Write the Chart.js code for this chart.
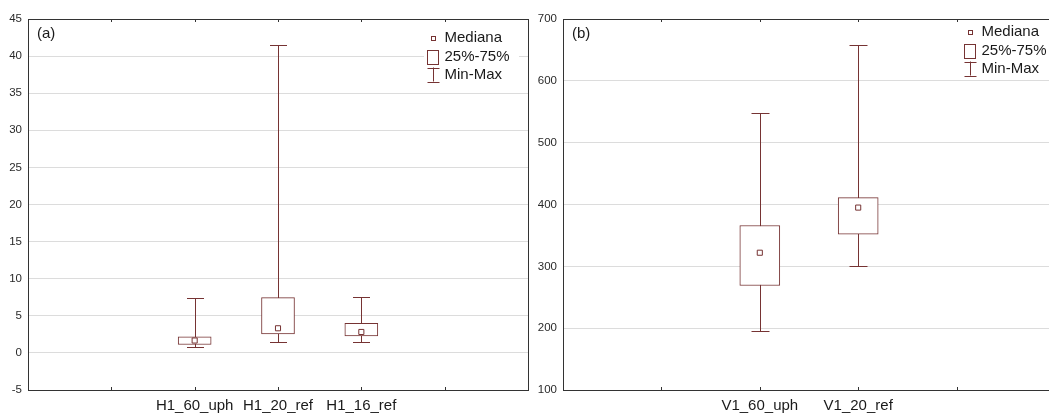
<!DOCTYPE html>
<html>
<head>
<meta charset="utf-8">
<title>Box plots H1 / V1</title>
<script src="https://cdn.jsdelivr.net/npm/chart.js@4.4.0/dist/chart.umd.min.js"></script>
<style>
  html, body { margin: 0; padding: 0; background: #fff; width: 1049px; height: 413px; overflow: hidden; }
  .panel { position: absolute; top: 0; }
  #wrapA { left: 0; }
  #wrapB { left: 538px; }
</style>
</head>
<body>
<div class="panel" id="wrapA"><canvas id="chartA" width="538" height="413"></canvas></div>
<div class="panel" id="wrapB"><canvas id="chartB" width="522" height="413"></canvas></div>
<script>
// panel (a)
const catsA = ['H1_60_uph', 'H1_20_ref', 'H1_16_ref']
const minA = [0.73, 1.45, 1.45]
const q1A = [1.13, 2.55, 2.28]
const medA = [1.67, 3.32, 2.82]
const q3A = [2.18, 7.44, 3.99]
const maxA = [7.44, 41.5, 7.53]
const yTicksA = [-5, 0, 5, 10, 15, 20, 25, 30, 35, 40, 45]

// panel (b)
const catsB = ['V1_60_uph', 'V1_20_ref']
const minB = [196, 300]
const q1B = [269, 352]
const medB = [322, 395]
const q3B = [366, 411]
const maxB = [548, 658]
const yTicksB = [100, 200, 300, 400, 500, 600, 700]

const legendLabels = ['Mediana', '25%-75%', 'Min-Max']

const BOX = '#763333'
const FRAME = '#333'

Chart.defaults.font.family = '"Liberation Sans", Arial, sans-serif'

function boxChart(id, p) {
  // whiskers, frame, x tick marks, panel tag and legend
  const extras = {
    id: 'extras',
    beforeDatasetsDraw(chart) {
      const { ctx, scales: { x, y } } = chart
      ctx.save()
      ctx.strokeStyle = BOX
      ctx.lineWidth = 1
      p.cats.forEach((c, i) => {
        const px = Math.round(x.getPixelForValue(i + p.first)) + 0.5
        const yLo = Math.round(y.getPixelForValue(p.mn[i])) + 0.5
        const yHi = Math.round(y.getPixelForValue(p.mx[i])) + 0.5
        const h = p.cap / 2
        ctx.beginPath()
        ctx.moveTo(px, yLo); ctx.lineTo(px, yHi)
        ctx.moveTo(px - h, yLo); ctx.lineTo(px + h, yLo)
        ctx.moveTo(px - h, yHi); ctx.lineTo(px + h, yHi)
        ctx.stroke()
      })
      ctx.restore()
    },
    afterDraw(chart) {
      const { ctx, chartArea: a, scales: { x } } = chart
      ctx.save()

      // frame
      ctx.strokeStyle = FRAME
      ctx.lineWidth = 1
      ctx.strokeRect(Math.round(a.left) + 0.5, Math.round(a.top) + 0.5,
        Math.round(a.right - a.left), Math.round(a.bottom - a.top))

      // small inward ticks on top and bottom
      ctx.beginPath()
      for (let v = 1; v < p.xMax; v++) {
        const px = Math.round(x.getPixelForValue(v)) + 0.5
        ctx.moveTo(px, a.bottom); ctx.lineTo(px, a.bottom - 3)
        ctx.moveTo(px, a.top); ctx.lineTo(px, a.top + 3)
      }
      ctx.stroke()

      // panel tag
      ctx.fillStyle = '#1a1a1a'
      ctx.font = '15px "Liberation Sans", Arial, sans-serif'
      ctx.textBaseline = 'middle'
      ctx.textAlign = 'left'
      ctx.fillText(p.tag, a.left + 9, 34)

      // legend
      const lx = p.legX
      const rows = [p.legY, p.legY + 18.5, p.legY + 36.5]
      ctx.fillStyle = '#fff'
      ctx.fillRect(lx - 9, rows[0] - 10, a.right - 9 - (lx - 9), rows[2] + 10 - (rows[0] - 10))
      ctx.strokeStyle = BOX
      ctx.strokeRect(Math.round(lx - 2.5) + 0.5, Math.round(rows[0] - 2.5) + 0.5, 4, 4)
      ctx.strokeRect(Math.round(lx - 6) + 0.5, Math.round(rows[1] - 7) + 0.5, 11, 14)
      ctx.beginPath()
      const bx = Math.round(lx) + 0.5
      ctx.moveTo(bx, rows[2] - 7); ctx.lineTo(bx, rows[2] + 7)
      ctx.moveTo(bx - 6, Math.round(rows[2] - 7) + 0.5); ctx.lineTo(bx + 6, Math.round(rows[2] - 7) + 0.5)
      ctx.moveTo(bx - 6, Math.round(rows[2] + 7) + 0.5); ctx.lineTo(bx + 6, Math.round(rows[2] + 7) + 0.5)
      ctx.stroke()
      ctx.fillStyle = '#1a1a1a'
      legendLabels.forEach((t, i) => ctx.fillText(t, lx + 11.5, rows[i]))

      ctx.restore()
    }
  }

  return new Chart(document.getElementById(id), {
    type: 'bar',
    data: {
      datasets: [
        {
          type: 'scatter',
          data: p.cats.map((c, i) => ({ x: i + p.first, y: p.med[i] })),
          pointStyle: 'rect',
          pointRadius: 3.6,
          backgroundColor: '#fff',
          borderColor: BOX,
          borderWidth: 1,
          order: 1
        },
        {
          type: 'bar',
          data: p.cats.map((c, i) => ({ x: i + p.first, y: [p.q1[i], p.q3[i]] })),
          backgroundColor: '#fff',
          borderColor: BOX,
          borderWidth: 1,
          borderSkipped: false,
          barThickness: p.barW,
          order: 2
        }
      ]
    },
    options: {
      responsive: false,
      animation: false,
      events: [],
      layout: { padding: { top: 19, right: p.padRight, left: 0, bottom: 0 } },
      plugins: { legend: { display: false }, tooltip: { enabled: false } },
      scales: {
        x: {
          type: 'linear',
          min: 0,
          max: p.xMax,
          offset: false,
          grid: { display: false, drawTicks: false, offset: false },
          border: { display: false },
          afterBuildTicks: s => { s.ticks = p.cats.map((c, i) => ({ value: i + p.first })) },
          ticks: {
            callback: v => p.cats[v - p.first] ?? '',
            autoSkip: false,
            maxRotation: 0,
            padding: 7,
            color: '#1a1a1a',
            font: { size: 15 }
          },
          afterFit: s => { s.height = 23 }
        },
        y: {
          type: 'linear',
          min: p.yTicks[0],
          max: p.yTicks[p.yTicks.length - 1],
          afterBuildTicks: s => { s.ticks = p.yTicks.map(v => ({ value: v })) },
          grid: { color: '#dcdcdc', drawTicks: false },
          border: { display: false },
          ticks: { padding: 6, color: '#2a2a2a', font: { size: 11.5 } },
          afterFit: s => { s.width = p.yWidth }
        }
      }
    },
    plugins: [extras]
  })
}

boxChart('chartA', {
  cats: catsA, mn: minA, q1: q1A, med: medA, q3: q3A, mx: maxA, yTicks: yTicksA,
  first: 2, xMax: 6, yWidth: 28, padRight: 10, barW: 33, cap: 17,
  tag: '(a)', legX: 433, legY: 38
})

boxChart('chartB', {
  cats: catsB, mn: minB, q1: q1B, med: medB, q3: q3B, mx: maxB, yTicks: yTicksB,
  first: 2, xMax: 5, yWidth: 25, padRight: 2, barW: 40, cap: 18,
  tag: '(b)', legX: 432, legY: 32
})
</script>
</body>
</html>
